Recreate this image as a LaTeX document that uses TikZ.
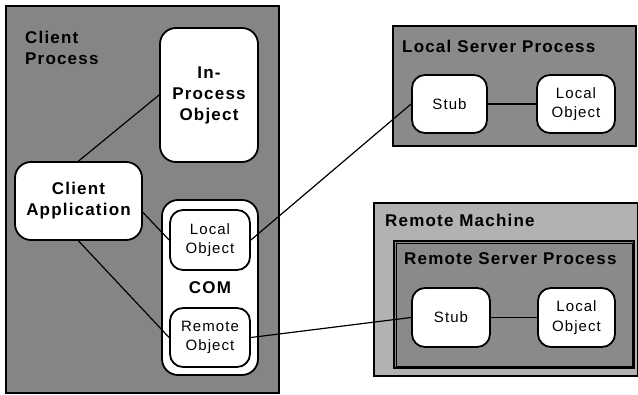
\documentclass[tikz,border=0pt]{standalone}
\usepackage{fontspec}
\setmainfont{Liberation Sans}
\newfontfamily\spaced[LetterSpace=7]{Liberation Sans}
\begin{document}
\begin{tikzpicture}[x=1pt, y=-1pt,
  frame/.style={draw, line width=2.4pt, rectangle, anchor=north west, inner sep=0pt},
  obj/.style={draw, line width=1.8pt, fill=white, rounded corners=13pt, align=center, inner sep=0pt},
  ttl/.style={font=\spaced\bfseries\fontsize{17}{21}\selectfont},
  reg/.style={font=\spaced\fontsize{15}{19.5}\selectfont},
  hdr/.style={ttl, anchor=base west, inner sep=0pt},
  link/.style={line width=1.2pt}
]
\useasboundingbox (0,0) rectangle (638,395);

% client process
\node[frame, fill=black!48, minimum width=273pt, minimum height=387pt] (cp) at (5,5) {};
\node[hdr] (cpt1) at (25,44) {Client};
\node[hdr] (cpt2) at (25,65) {Process};

\node[obj, ttl, minimum width=98pt, minimum height=134pt, rounded corners=16pt] (ipo) at (209,95) {In-\\Process\\Object};
\node[obj, ttl, minimum width=127pt, minimum height=78pt, rounded corners=16pt] (ca) at (78.5,201) {Client\\Application};

\node[obj, minimum width=96pt, minimum height=175pt, rounded corners=16pt] (com) at (210,287.5) {};
\node[ttl, anchor=base, inner sep=0pt] (comt) at (210,294) {COM};
\node[obj, reg, minimum width=80pt, minimum height=60pt] (lo) at (210,240) {Local\\Object};
\node[obj, reg, minimum width=80pt, minimum height=59pt] (ro) at (210,337.5) {Remote\\Object};

% local server process
\node[frame, fill=black!46, minimum width=243pt, minimum height=120pt] (lsp) at (392,25) {};
\node[hdr] (lspt) at (402,53) {Local Server Process};
\node[obj, reg, minimum width=75pt, minimum height=58pt] (ls) at (449.5,104) {Stub};
\node[obj, reg, minimum width=78pt, minimum height=58pt] (llo) at (576,104) {Local\\Object};

% remote machine
\node[frame, fill=black!30, minimum width=264pt, minimum height=173pt] (rm) at (373,202) {};
\node[hdr] (rmt) at (385,227) {Remote Machine};
\node[frame, fill=black!46, minimum width=240pt, minimum height=127pt] (rsp) at (393,240) {};
\draw[line width=0.6pt] ([shift={(3.5pt,-3.5pt)}]rsp.north west) rectangle ([shift={(-3.5pt,3.5pt)}]rsp.south east);
\node[hdr] (rspt) at (404,265) {Remote Server Process};
\node[obj, reg, minimum width=78pt, minimum height=59pt] (rs) at (451,317.5) {Stub};
\node[obj, reg, minimum width=77pt, minimum height=59pt] (rlo) at (576.5,317.5) {Local\\Object};

% connections
\draw[link] (ca.north) -- (ipo.west);
\draw[link] (ca.-10) -- (lo.west);
\draw[link] (ca.south) -- (ro.west);
\draw[link] (lo.east) -- (ls.west);
\draw[link] (ro.east) -- (rs.west);
\draw[link] (ls.east) -- (llo.west);
\draw[link] (rs.east) -- (rlo.west);
\end{tikzpicture}
\end{document}
